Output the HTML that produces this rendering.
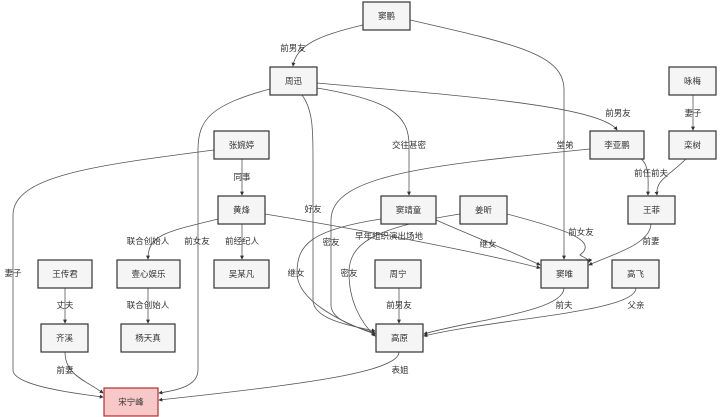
<!DOCTYPE html>
<html><head><meta charset="utf-8"><style>
html,body{margin:0;padding:0;background:#fff;}
svg{display:block;}
text{font-family:"Liberation Sans","Noto Sans CJK SC",sans-serif;font-size:8.5px;fill:#333;}
.n rect{fill:#f5f5f5;stroke:#333;stroke-width:1.2;}
.e{fill:none;stroke:#555;stroke-width:0.8;}
.l rect{fill:#ececec;}
</style></head><body>
<svg width="720" height="417" viewBox="0 0 720 417" xmlns="http://www.w3.org/2000/svg">
<defs><marker id="a" viewBox="0 0 6 6" refX="5" refY="3" markerWidth="5" markerHeight="5" orient="auto"><path d="M0,0L6,3L0,6z" fill="#333"/></marker></defs>
<g marker-end="url(#a)">
<path class="e" d="M363,25 C320,35 296,45 293,66"/>
<path class="e" d="M410,20 C520,45 564,55 564,90 L564,259"/>
<path class="e" d="M317,83 C450,95 600,105 617,130"/>
<path class="e" d="M317,88 C390,100 409,115 409,145 L409,195"/>
<path class="e" d="M270,89 C210,105 198,120 198,150 L198,370 C198,385 180,390 159,393"/>
<path class="e" d="M302,95 C313,110 313,130 313,160 L313,300 C313,318 345,325 375,331"/>
<path class="e" d="M590,149 C430,165 331,175 331,220 L331,305 C331,320 355,327 375,333"/>
<path class="e" d="M214,150 C100,165 13,175 13,215 L13,370 C13,385 70,393 103,397"/>
<path class="e" d="M242,159 L242,195"/>
<path class="e" d="M218,219 C165,232 148,235 148,259"/>
<path class="e" d="M242,224 L242,259"/>
<path class="e" d="M265,214 C350,228 470,250 540,268"/>
<path class="e" d="M381,219 C310,230 297,245 297,273 C297,300 340,322 375,334"/>
<path class="e" d="M436,220 C470,235 520,255 540,265"/>
<path class="e" d="M460,214 C370,228 349,245 349,273 C349,300 360,322 375,336"/>
<path class="e" d="M507,214 C560,228 600,240 580,255 C585,258 590,260 589,262"/>
<path class="e" d="M641,159 C650,165 648,185 648,195"/>
<path class="e" d="M686,159 C670,175 655,180 657,195"/>
<path class="e" d="M693,94 L693,130"/>
<path class="e" d="M651,224 C650,245 610,255 589,265"/>
<path class="e" d="M65,288 L65,323"/>
<path class="e" d="M148,288 L148,323"/>
<path class="e" d="M65,352 C65,375 85,380 103,393"/>
<path class="e" d="M399,288 L399,323"/>
<path class="e" d="M564,288 C564,312 470,320 424,334"/>
<path class="e" d="M636,288 C636,312 500,318 424,336"/>
<path class="e" d="M399,352 C399,372 300,385 159,400"/>
</g>
<g class="n">
<rect x="363" y="2" width="47" height="28"/><text x="386.5" y="19" text-anchor="middle">窦鹏</text>
<rect x="270" y="67" width="47" height="28"/><text x="293.5" y="84" text-anchor="middle">周迅</text>
<rect x="214" y="131" width="55" height="28"/><text x="241.5" y="148" text-anchor="middle">张婉婷</text>
<rect x="218" y="196" width="47" height="28"/><text x="241.5" y="213" text-anchor="middle">黄烽</text>
<rect x="669" y="67" width="47" height="28"/><text x="692.5" y="84" text-anchor="middle">咏梅</text>
<rect x="590" y="131" width="54" height="28"/><text x="617" y="148" text-anchor="middle">李亚鹏</text>
<rect x="669" y="131" width="47" height="28"/><text x="692.5" y="148" text-anchor="middle">栾树</text>
<rect x="381" y="196" width="55" height="28"/><text x="408.5" y="213" text-anchor="middle">窦靖童</text>
<rect x="460" y="196" width="47" height="28"/><text x="483.5" y="213" text-anchor="middle">姜昕</text>
<rect x="628" y="196" width="47" height="28"/><text x="651.5" y="213" text-anchor="middle">王菲</text>
<rect x="38" y="260" width="54" height="28"/><text x="65" y="277" text-anchor="middle">王传君</text>
<rect x="117" y="260" width="63" height="28"/><text x="148.5" y="277" text-anchor="middle">壹心娱乐</text>
<rect x="214" y="260" width="55" height="28"/><text x="241.5" y="277" text-anchor="middle">吴某凡</text>
<rect x="375" y="260" width="46" height="28"/><text x="398" y="277" text-anchor="middle">周宁</text>
<rect x="541" y="260" width="47" height="28"/><text x="564.5" y="277" text-anchor="middle">窦唯</text>
<rect x="612" y="260" width="47" height="28"/><text x="635.5" y="277" text-anchor="middle">高飞</text>
<rect x="41" y="324" width="47" height="28"/><text x="64.5" y="341" text-anchor="middle">齐溪</text>
<rect x="121" y="324" width="54" height="28"/><text x="148" y="341" text-anchor="middle">杨天真</text>
<rect x="376" y="324" width="47" height="28"/><text x="399.5" y="341" text-anchor="middle">高原</text>
<rect x="104" y="388" width="54" height="28" style="fill:#f8c8c8;stroke:#a33"/><text x="131" y="405" text-anchor="middle">宋宁峰</text>
</g>
<g class="l" text-anchor="middle">
<text x="293" y="51">前男友</text>
<text x="565" y="148">堂弟</text>
<text x="618" y="116">前男友</text>
<text x="409" y="148">交往甚密</text>
<text x="197" y="244">前女友</text>
<text x="313" y="212">好友</text>
<text x="331" y="245">密友</text>
<text x="13" y="276">妻子</text>
<text x="242" y="180">同事</text>
<text x="148" y="244">联合创始人</text>
<text x="242" y="244">前经纪人</text>
<text x="389" y="239">早年组织演出场地</text>
<text x="296" y="276">继女</text>
<text x="488" y="247">继女</text>
<text x="349" y="276">密友</text>
<text x="581" y="235">前女友</text>
<text x="651" y="176">前任前夫</text>
<text x="693" y="116">妻子</text>
<text x="651" y="244">前妻</text>
<text x="65" y="308">丈夫</text>
<text x="148" y="308">联合创始人</text>
<text x="65" y="373">前妻</text>
<text x="399" y="308">前男友</text>
<text x="564" y="308">前夫</text>
<text x="636" y="308">父亲</text>
<text x="400" y="373">表姐</text>
</g>
</svg>
</body></html>
